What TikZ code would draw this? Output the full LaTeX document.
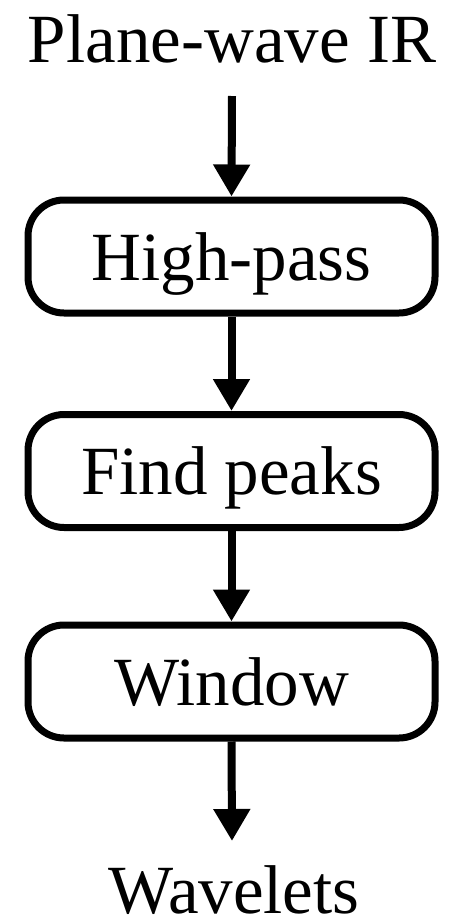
\documentclass[tikz,border=0pt]{standalone}
\usepackage{fontspec}
\setmainfont{Liberation Serif}
\usetikzlibrary{arrows.meta}
\begin{document}
\begin{tikzpicture}[x=1pt,y=1pt,
  lbl/.style={font=\fontsize{69}{80}\selectfont, inner sep=0pt, anchor=base},
  stepbox/.style={draw, line width=7pt, rounded corners=36pt, minimum width=407pt,
    minimum height=113pt, inner sep=0pt, text height=50pt, text depth=3pt,
    font=\fontsize{69}{80}\selectfont},
  arr/.style={line width=8pt, -{Triangle[length=32pt,width=35pt]}}]
\useasboundingbox (0,0) rectangle (468,-919);
\node[lbl] (title) at (232,-62) {Plane-wave IR};
\node[stepbox] (b1) at (231.5,-256.5) {High-pass};
\node[stepbox] (b2) at (231.5,-471) {Find peaks};
\node[stepbox] (b3) at (231.5,-681.5) {Window};
\node[lbl, text depth=0pt] (wav) at (234,-913) {Wavelets};
\coordinate (tip) at (232,-841);
\draw[arr] ([yshift=-34pt]title.base) -- (b1.north);
\draw[arr] (b1.south) -- (b2.north);
\draw[arr] (b2.south) -- (b3.north);
\draw[arr] (b3.south) -- (tip);
\end{tikzpicture}
\end{document}
